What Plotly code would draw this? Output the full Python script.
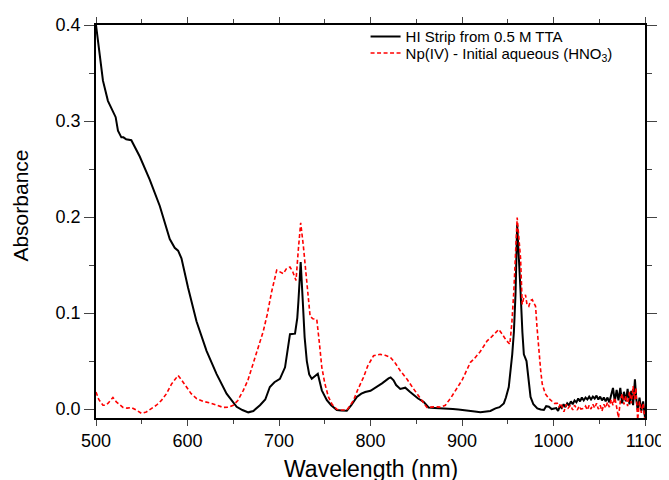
import plotly.graph_objects as go

# ---- data ----
hi_wl = [500, 503, 507.6, 513, 518.5, 521.5, 524, 527.7, 530, 533, 538.6, 547.8, 558.7, 569.7,
         580.6, 586, 589.7, 593.4, 600.7, 609.8, 620.8, 631.7, 642.7, 653.7, 660, 666.4, 672,
         679.2, 685, 690, 695, 701, 706.6, 712, 717.5, 720, 721.2, 723.7, 726, 728, 730.4, 733,
         735.8, 739, 742.4, 746.8, 752.3, 757, 763.2, 768, 774.1, 779, 785.1, 790, 794.2, 800,
         807, 813, 819.7, 822, 825.2, 828, 832.5, 838, 843, 847.1, 852, 858, 863.5, 870, 877,
         883.7, 890, 896, 901.9, 908, 914, 920.1, 926, 931, 936.6, 941, 945.7, 948, 951.1, 953,
         954.9, 956.7, 958.5, 960.3, 962, 964, 966, 967.6, 970.5, 972.5, 974.9, 978, 982.3, 986,
         989.5, 992, 995, 998, 1000.5,
         1003, 1005, 1007, 1009, 1011, 1013, 1015, 1017, 1019, 1021, 1023, 1025, 1027, 1029,
         1031, 1033, 1035, 1037, 1039, 1041, 1043, 1045, 1047, 1049, 1051, 1053, 1055, 1057,
         1059, 1061, 1063, 1065, 1067, 1069, 1071, 1073, 1075, 1077, 1079, 1081, 1083, 1085,
         1087, 1089, 1090.5, 1092, 1094, 1096, 1098, 1100]
hi_abs = [0.400, 0.375, 0.342, 0.321, 0.309, 0.304, 0.290, 0.283, 0.283, 0.281, 0.280, 0.263,
          0.239, 0.2115, 0.177, 0.168, 0.165, 0.157, 0.126, 0.0915, 0.0607, 0.0367, 0.016,
          0.0024, -0.001, -0.0034, -0.002, 0.004, 0.010, 0.023, 0.028, 0.0315, 0.0435, 0.078,
          0.0785, 0.095, 0.112, 0.153, 0.112, 0.075, 0.050, 0.036, 0.0315, 0.034, 0.0367,
          0.0195, 0.0093, 0.004, -0.001, -0.0015, -0.0017, 0.004, 0.0127, 0.016, 0.0178, 0.019,
          0.023, 0.027, 0.032, 0.033, 0.030, 0.025, 0.021, 0.0223, 0.018, 0.0144, 0.011, 0.0075,
          0.0017, 0.0012, 0.001, 0.0007, 0.0, -0.0005, -0.001, -0.002, -0.0025, -0.0034, -0.003,
          -0.002, 0.0007, 0.002, 0.0059, 0.012, 0.023, 0.037, 0.057, 0.08, 0.12, 0.192, 0.165,
          0.1224, 0.08, 0.057, 0.050, 0.03, 0.0126, 0.005, 0.0007, -0.0005, -0.001, 0.003,
          0.0024, 0.0, 0.0007,
          0.001, -0.002, 0.003, 0.001, 0.005, 0.002, 0.006, 0.004, 0.008, 0.005, 0.009, 0.007,
          0.011, 0.008, 0.012, 0.009, 0.012, 0.010, 0.013, 0.010, 0.013, 0.011, 0.014, 0.010,
          0.013, 0.009, 0.012, 0.008, 0.012, 0.007, 0.015, 0.022, 0.008, 0.020, 0.009, 0.022,
          0.006, 0.018, 0.008, 0.021, 0.005, 0.019, 0.004, 0.031, 0.010, -0.001, 0.012, -0.002,
          0.008, -0.009]

np_wl = [500, 503, 507.6, 510, 513, 516, 518.5, 522.2, 525, 529.5, 534, 538.6, 544, 549.6, 555,
         560.6, 566, 571.5, 577, 582.5, 586, 589.7, 593, 598.9, 604, 609.9, 617, 624.4, 631, 639,
         645, 650, 655, 661, 666, 671.8, 677, 682.8, 687, 692, 697.5, 701, 704.7, 708, 712, 715,
         718.6, 721.2, 723.7, 726.6, 730.4, 734, 737, 741.3, 744, 746.8, 750, 754, 758, 763.2,
         768, 774.1, 778, 781.4, 786, 792.3, 797, 803.3, 810.6, 816, 821.6, 827, 832.5, 840,
         847.1, 853, 857, 861.7, 866, 870.8, 876.3, 881.8, 888, 894.6, 900, 909.2, 913, 920,
         927.5, 931.1, 936, 940.2, 944, 948, 952.3, 954.5, 956.6, 958.5, 960.3, 962, 964, 965.8,
         967.5, 969.4, 971, 973, 975, 976.8, 978.5, 980.4, 982, 984, 986, 987.7, 991, 995, 998,
         1001, 1004.2, 1006, 1008, 1011.4, 1014, 1016, 1018.7, 1021, 1023, 1026, 1028, 1030,
         1033.3, 1035, 1037, 1039, 1041, 1043, 1045, 1047, 1049, 1051, 1053, 1055, 1057, 1059,
         1061, 1063, 1065, 1067, 1069, 1071, 1073, 1075, 1077, 1079, 1081, 1083, 1085, 1087,
         1088.5, 1090, 1092, 1094, 1096, 1098, 1100]
np_abs = [0.0178, 0.010, 0.004, 0.004, 0.0059, 0.009, 0.012, 0.0075, 0.005, 0.0017, 0.001,
          0.0017, -0.001, -0.0044, -0.003, 0.0007, 0.004, 0.009, 0.016, 0.026, 0.031, 0.035,
          0.031, 0.023, 0.016, 0.011, 0.008, 0.0065, 0.004, 0.0017, 0.002, 0.004, 0.009, 0.0195,
          0.030, 0.047, 0.062, 0.081, 0.098, 0.1224, 0.1447, 0.143, 0.141, 0.146, 0.148, 0.143,
          0.134, 0.167, 0.194, 0.170, 0.129, 0.0967, 0.094, 0.0933, 0.07, 0.0435, 0.027, 0.0126,
          0.005, -0.0003, -0.001, -0.001, 0.004, 0.009, 0.02, 0.033, 0.045, 0.0555, 0.057, 0.056,
          0.054, 0.048, 0.040, 0.031, 0.021, 0.013, 0.007, 0.0017, 0.002, 0.0024, 0.002, 0.004,
          0.012, 0.022, 0.030, 0.0487, 0.052, 0.060, 0.071, 0.074, 0.079, 0.083, 0.078, 0.072,
          0.0675, 0.09, 0.122, 0.16, 0.1995, 0.18, 0.157, 0.109, 0.116, 0.119, 0.109, 0.107,
          0.113, 0.114, 0.110, 0.107, 0.085, 0.0607, 0.04, 0.026, 0.016, 0.011, 0.008, 0.0059,
          0.0059, 0.002, 0.006, -0.0028, 0.005, 0.001, 0.004, -0.001, 0.004, -0.001, 0.003, 0.000,
          0.0007, 0.003, -0.001, 0.004, 0.000, 0.005, 0.001, 0.006, 0.000, 0.004, -0.002, 0.005,
          0.001, 0.007, 0.002, 0.010, 0.004, 0.012, 0.002, -0.009, 0.008, 0.016, 0.005, 0.014,
          0.003, 0.018, 0.006, 0.024, 0.010, 0.022, -0.011, 0.008, -0.004, 0.006, -0.013]

x_ticks = [500, 600, 700, 800, 900, 1000, 1100]
y_ticks = [0.0, 0.1, 0.2, 0.3, 0.4]
y_tick_text = ["0.0", "0.1", "0.2", "0.3", "0.4"]

FONT = "Arial, Liberation Sans, sans-serif"

fig = go.Figure()
fig.add_trace(go.Scatter(x=hi_wl, y=hi_abs, mode="lines", name="HI Strip from 0.5 M TTA",
                         line=dict(color="black", width=2), legend="legend"))
fig.add_trace(go.Scatter(x=np_wl, y=np_abs, mode="lines",
                         name="Np(IV) - Initial aqueous (HNO<sub>3</sub>)",
                         line=dict(color="#ff0000", width=1.6, dash="4px,2.5px"),
                         legend="legend2"))

leg_common = dict(x=0.491, xanchor="left", yanchor="middle", bgcolor="rgba(0,0,0,0)",
                  font=dict(size=15, family=FONT))
fig.update_layout(
    width=661, height=472,
    margin=dict(l=88, r=24, t=12, b=62),
    paper_bgcolor="white", plot_bgcolor="white",
    font=dict(family=FONT, color="black"),
    showlegend=True,
    legend=dict(y=0.970, **leg_common),
    legend2=dict(y=0.928, **leg_common),
    annotations=[
        dict(text="Absorbance", textangle=-90, xref="paper", yref="paper",
             x=-0.137, y=0.54, xanchor="center", yanchor="middle",
             showarrow=False, font=dict(size=21, family=FONT, color="black")),
        dict(text="Wavelength (nm)", xref="paper", yref="paper",
             x=0.5, y=-0.131, xanchor="center", yanchor="middle",
             showarrow=False, font=dict(size=23, family=FONT, color="black")),
    ],
)
fig.update_xaxes(
    range=[500, 1100], tickvals=x_ticks, ticks="outside", ticklen=6, tickwidth=1.3,
    showline=True, linecolor="black", linewidth=1.5, mirror="ticks", showgrid=False,
    zeroline=False, tickfont=dict(size=18, family=FONT),
    minor=dict(dtick=50, ticks="outside", ticklen=4, tickwidth=1.3, showgrid=False),
    automargin=False,
)
fig.update_yaxes(
    range=[-0.0093, 0.4], tickvals=y_ticks, ticktext=y_tick_text, ticks="outside", ticklen=10,
    tickwidth=1.3, showline=True, linecolor="black", linewidth=1.5, mirror="ticks",
    showgrid=False, zeroline=False, tickfont=dict(size=18, family=FONT),
    minor=dict(dtick=0.05, tick0=0, ticks="outside", ticklen=5, tickwidth=1.3, showgrid=False),
    automargin=False,
)

fig.write_html("out.html")
